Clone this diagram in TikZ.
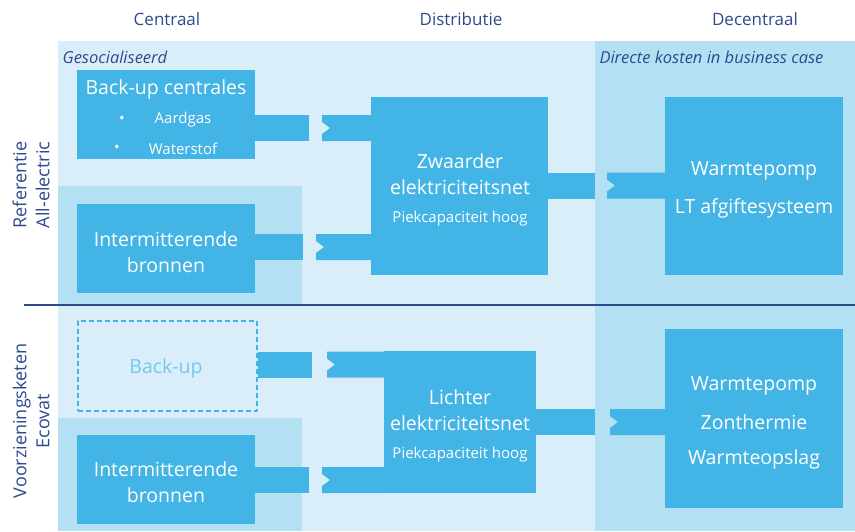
\documentclass[tikz,border=0pt]{standalone}
\usepackage{fontspec}
\setmainfont{Open Sans}
\definecolor{bgpale}{HTML}{DAEEF9}
\definecolor{bgmid}{HTML}{B3E1F3}
\definecolor{boxblue}{HTML}{42B4E5}
\definecolor{navy}{HTML}{2E4A8C}
\definecolor{ghost}{HTML}{72C9EF}

% band van blok naar blok: #1 van, #2 begin opening, #3 eind opening, #4 naar
\newcommand{\verbinding}[4]{%
  \fill[band] ([yshift=13]#1.east |- #2) rectangle ([yshift=-13]#2);
  \fill[band] ([yshift=13]#3) -- ([yshift=13]#4.west |- #3)
    -- ([yshift=-13]#4.west |- #3) -- ([yshift=-13]#3)
    -- ([yshift=-6]#3) -- ([xshift=8]#3) -- ([yshift=6]#3) -- cycle;}

\begin{document}
\begin{tikzpicture}[x=1pt, y=-1pt, line join=round,
  blok/.style={fill=boxblue, inner sep=0pt, anchor=north west},
  band/.style={fill=boxblue},
  kop/.style={text=navy, font=\fontsize{17}{20}\selectfont},
  notitie/.style={text=navy, anchor=west, font=\fontsize{16.5}{19}\selectfont\itshape},
  groot/.style={text=white, font=\fontsize{19.5}{23}\selectfont},
  klein/.style={text=white, font=\fontsize{15}{18}\selectfont},
  rij/.style={text=navy, rotate=90, align=center, font=\fontsize{18}{23}\selectfont}]
	\useasboundingbox (0,0) rectangle (855,531);
	
	% Achtergrondvlakken
	\fill[bgpale] (58,41) rectangle (855,531);
	\fill[bgmid] (595,41) rectangle (855,531);
	\fill[bgmid] (58,186) rectangle (302,305);
	\fill[bgmid] (58,418) rectangle (302,531);
	\draw[navy, line width=1.2] (24,305) -- (855,305);
	
	% Kolomkoppen en notities
	\node[kop] (centraal) at (167,19) {Centraal};
	\node[kop] (distributie) at (461,19) {Distributie};
	\node[kop] (decentraal) at (755,19) {Decentraal};
	\node[notitie] (gesoc) at (59,57) {Gesocialiseerd};
	\node[notitie] (direct) at (596,57) {Directe kosten in business case};
	
	% Rijlabels
	\node[rij] (ref) at (31,185) {Referentie\\All-electric};
	\node[rij] (eco) at (31,421) {Voorzieningsketen\\Ecovat};
	
	% Blokken bovenste rij
	\node[blok, minimum width=178, minimum height=89] (bc) at (77,70) {};
	\node[blok, minimum width=178, minimum height=89] (ib1) at (77,204) {};
	\node[blok, minimum width=177, minimum height=178] (zw) at (371,97) {};
	\node[blok, minimum width=178, minimum height=178] (wp1) at (665,97) {};
	
	% Blokken onderste rij
	\node[blok, fill=none, draw=boxblue, line width=1.5, dash pattern=on 5pt off 3pt,
	  minimum width=179, minimum height=90] (bu) at (77,320) {};
	\node[blok, minimum width=178, minimum height=89] (ib2) at (77,435) {};
	\node[blok, minimum width=152, minimum height=142] (li) at (384,351) {};
	\node[blok, minimum width=178, minimum height=179] (wp2) at (665,329) {};
	
	% Openingen in de banden
	\coordinate (g1a) at (309,128);   \coordinate (g1b) at (322,128);
	\coordinate (g2a) at (303,247);   \coordinate (g2b) at (316,247);
	\coordinate (g3a) at (595,185.5); \coordinate (g3b) at (607,185.5);
	\coordinate (g4a) at (312,364.5); \coordinate (g4b) at (327,364.5);
	\coordinate (g5a) at (309,480);   \coordinate (g5b) at (322,480);
	\coordinate (g6a) at (595,422);   \coordinate (g6b) at (610,422);
	
	\verbinding{bc}{g1a}{g1b}{zw}
	\verbinding{ib1}{g2a}{g2b}{zw}
	\verbinding{zw}{g3a}{g3b}{wp1}
	\verbinding{bu}{g4a}{g4b}{li}
	\verbinding{ib2}{g5a}{g5b}{li}
	\verbinding{li}{g6a}{g6b}{wp2}
	
	% Teksten in de blokken
	\node[groot] (bct) at (166,89) {Back-up centrales};
	\node[klein] (p1) at (122,120) {•};
	\node[klein] (p2) at (117,149) {•};
	\node[klein] (gas) at (183,120) {Aardgas};
	\node[klein] (h2) at (183,149) {Waterstof};
	\node[groot] (ib1a) at (166,239) {Intermitterende};
	\node[groot] (ib1b) at (166,265) {bronnen};
	\node[groot] (zwa) at (460,161) {Zwaarder};
	\node[groot] (zwb) at (460,187) {elektriciteitsnet};
	\node[klein] (zwc) at (460,219) {Piekcapaciteit hoog};
	\node[groot] (wp1a) at (754,171) {Warmtepomp};
	\node[groot] (wp1b) at (754,208) {LT afgiftesysteem};
	
	\node[groot, text=ghost] (but) at (166,368) {Back-up};
	\node[groot] (ib2a) at (166,469) {Intermitterende};
	\node[groot] (ib2b) at (166,495) {bronnen};
	\node[groot] (lia) at (460,397) {Lichter};
	\node[groot] (lib) at (460,423) {elektriciteitsnet};
	\node[klein] (lic) at (460,455) {Piekcapaciteit hoog};
	\foreach \n/\y/\t in {wp2a/386/Warmtepomp, wp2b/422/Zonthermie, wp2c/459/Warmteopslag}
	\node[groot] (\n) at (754,\y) {\t};
\end{tikzpicture}
\end{document}
